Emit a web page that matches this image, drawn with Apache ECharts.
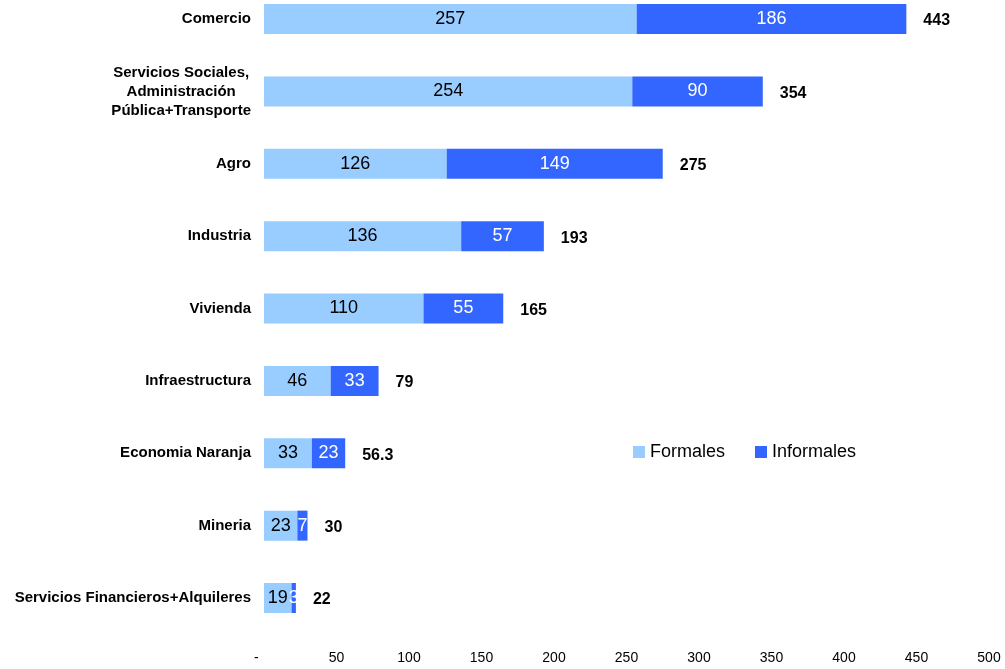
<!DOCTYPE html>
<html><head><meta charset="utf-8">
<script src="https://cdn.jsdelivr.net/npm/echarts@6/dist/echarts.min.js"></script>
<style>html,body{margin:0;padding:0;background:#fff}#c{width:1005px;height:669px}</style>
</head><body><div id="c"></div>
<script>
const categories = ['Comercio', 'Servicios Sociales,\nAdministración\nPública+Transporte', 'Agro', 'Industria', 'Vivienda', 'Infraestructura', 'Economia Naranja', 'Mineria', 'Servicios Financieros+Alquileres'];
const formales = [257, 254, 126, 136, 110, 46, 33, 23, 19];
const informales = [186, 90, 149, 57, 55, 33, 23, 7, 3];
const totals = [443, 354, 275, 193, 165, 79, 56.3, 30, 22];
const xTicks = [0, 50, 100, 150, 200, 250, 300, 350, 400, 450, 500];

const FONT = '"Liberation Sans", Arial, sans-serif';
const chart = echarts.init(document.getElementById('c'), null, {renderer: 'canvas'});
chart.setOption({
  animation: false,
  textStyle: {fontFamily: FONT},
  grid: {left: 264, right: 16, top: 19, bottom: 71, containLabel: false},
  legend: {
    data: ['Formales', 'Informales'],
    left: 628, top: 438, itemWidth: 12, itemHeight: 12, itemGap: 30,
    icon: 'rect',
    textStyle: {fontSize: 18, color: '#000', fontFamily: FONT}
  },
  xAxis: {
    type: 'value', min: 0, max: 500, interval: 50,
    axisLine: {show: false}, axisTick: {show: false}, splitLine: {show: false},
    axisLabel: {
      fontSize: 14, color: '#000', margin: 53, fontFamily: FONT,
      formatter: v => v === 0 ? '-    ' : String(xTicks[xTicks.indexOf(v)])
    }
  },
  yAxis: {
    type: 'category', data: categories, inverse: true, boundaryGap: false,
    axisLine: {show: false}, axisTick: {show: false}, splitLine: {show: false},
    axisLabel: {
      fontSize: 15, fontWeight: 'bold', color: '#000', margin: 13, fontFamily: FONT,
      formatter: v => v.split('\n').map(s => '{c|' + s + '}').join('\n'),
      rich: {c: {align: 'center', fontSize: 15, fontWeight: 'bold', color: '#000', fontFamily: FONT, lineHeight: 19}}
    }
  },
  series: [
    {
      name: 'Formales', type: 'bar', stack: 't', data: formales, barWidth: 30,
      itemStyle: {color: '#99CCFF'},
      label: {show: true, position: 'inside', fontSize: 18, color: '#000', fontFamily: FONT}
    },
    {
      name: 'Informales', type: 'bar', stack: 't', data: informales, barWidth: 30,
      itemStyle: {color: '#3366FF'},
      label: {show: true, position: 'inside', fontSize: 18, color: '#fff', fontFamily: FONT}
    },
    {
      name: 'Total', type: 'bar', stack: 't', data: totals.map(() => 0), barWidth: 30,
      itemStyle: {color: 'transparent'},
      label: {show: true, position: 'right', distance: 17, fontSize: 16, fontWeight: 'bold', color: '#000', fontFamily: FONT,
        offset: [0, 2],
        formatter: p => String(totals[p.dataIndex])}
    }
  ]
});
</script></body></html>
